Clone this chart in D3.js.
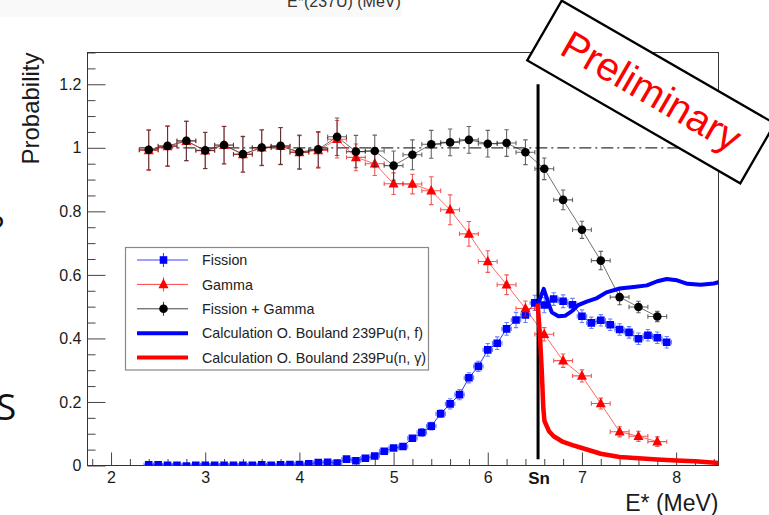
<!DOCTYPE html>
<html>
<head>
<meta charset="utf-8">
<script src="https://cdn.jsdelivr.net/npm/d3@7"></script>
<style>
  html, body { margin: 0; padding: 0; background: #fff; }
  svg { display: block; font-family: "Liberation Sans", Arial, Helvetica, sans-serif; }
</style>
</head>
<body>
<svg id="chart" width="769" height="515"></svg>
<script>
// ---------------- data ----------------
// 0.2 MeV bins: gamma and fission+gamma probabilities
const binE = [2.4, 2.6, 2.8, 3.0, 3.2, 3.4, 3.6, 3.8, 4.0, 4.2, 4.4, 4.6, 4.8, 5.0,
              5.2, 5.4, 5.6, 5.8, 6.0, 6.2, 6.4, 6.6, 6.8, 7.0, 7.2, 7.4, 7.6, 7.8];
const sumP = [0.994, 1.006, 1.022, 0.992, 1.009, 0.980, 1.001, 1.006, 0.987, 0.995, 1.035, 0.988, 0.990, 0.944,
              0.978, 1.011, 1.017, 1.025, 1.013, 1.015, 0.986, 0.934, 0.836, 0.742, 0.645, 0.530, 0.499, 0.469];
const sumErr = [0.063, 0.063, 0.062, 0.057, 0.059, 0.056, 0.056, 0.058, 0.053, 0.056, 0.059, 0.051, 0.050, 0.046,
                0.047, 0.044, 0.042, 0.042, 0.042, 0.042, 0.039, 0.034, 0.031, 0.027, 0.029, 0.024, 0.018, 0.016];
const gammaP = [0.992, 1.004, 1.021, 0.991, 1.008, 0.979, 1.000, 1.005, 0.985, 0.992, 1.027, 0.970, 0.950, 0.887,
                0.886, 0.865, 0.805, 0.729, 0.642, 0.569, 0.494, 0.413, 0.330, 0.282, 0.195, 0.106, 0.092, 0.075];
const gammaErr = [0.063, 0.063, 0.062, 0.057, 0.059, 0.056, 0.056, 0.058, 0.053, 0.056, 0.059, 0.042, 0.037, 0.034,
                  0.031, 0.044, 0.047, 0.039, 0.034, 0.031, 0.024, 0.021, 0.021, 0.019, 0.017, 0.016, 0.016, 0.015];

// 0.1 MeV bins: fission probability
const fisE = [2.4, 2.5, 2.6, 2.7, 2.8, 2.9, 3.0, 3.1, 3.2, 3.3, 3.4, 3.5, 3.6, 3.7, 3.8, 3.9,
              4.0, 4.1, 4.2, 4.3, 4.4, 4.5, 4.6, 4.7, 4.8, 4.9, 5.0, 5.1, 5.2, 5.3, 5.4, 5.5,
              5.6, 5.7, 5.8, 5.9, 6.0, 6.1, 6.2, 6.3, 6.4, 6.5, 6.6, 6.7, 6.8, 6.9, 7.0, 7.1,
              7.2, 7.3, 7.4, 7.5, 7.6, 7.7, 7.8, 7.9];
const fisP = [0.002, 0.002, 0.001, 0.001, -0.002, 0.001, 0.001, 0.001, 0.001, 0.001, 0.001, 0.001, 0.002, 0.001, 0.002, 0.003,
              0.003, 0.005, 0.009, 0.010, 0.008, 0.020, 0.015, 0.023, 0.030, 0.045, 0.055, 0.060, 0.086, 0.104, 0.124, 0.163,
              0.194, 0.223, 0.276, 0.312, 0.364, 0.385, 0.430, 0.458, 0.474, 0.512, 0.505, 0.524, 0.517, 0.506, 0.470, 0.449,
              0.457, 0.443, 0.428, 0.419, 0.399, 0.410, 0.402, 0.388];
const fisErr = [0.004, 0.004, 0.004, 0.004, 0.004, 0.004, 0.004, 0.004, 0.004, 0.004, 0.004, 0.004, 0.004, 0.004, 0.004, 0.004,
                0.004, 0.004, 0.004, 0.004, 0.004, 0.006, 0.006, 0.006, 0.006, 0.006, 0.008, 0.008, 0.008, 0.012, 0.012, 0.012,
                0.016, 0.016, 0.016, 0.016, 0.020, 0.020, 0.020, 0.024, 0.024, 0.024, 0.024, 0.020, 0.020, 0.020, 0.020, 0.018,
                0.018, 0.018, 0.018, 0.018, 0.018, 0.018, 0.018, 0.018];

// Model calculations above the neutron separation energy
const calcFisE = [6.534, 6.594, 6.645, 6.68, 6.75, 6.82, 6.89, 6.96, 7.05, 7.16, 7.26,
                  7.40, 7.55, 7.69, 7.80, 7.90, 8.01, 8.12, 8.26, 8.40, 8.45];
const calcFisP = [0.508, 0.556, 0.510, 0.482, 0.470, 0.471, 0.485, 0.505, 0.516, 0.527, 0.545,
                  0.557, 0.562, 0.567, 0.580, 0.587, 0.583, 0.572, 0.569, 0.573, 0.577];
const calcGamE = [6.53, 6.555, 6.573, 6.59, 6.602, 6.65, 6.70, 6.80, 6.90, 7.00, 7.20,
                  7.40, 7.60, 7.80, 8.00, 8.20, 8.45];
const calcGamP = [0.510, 0.405, 0.300, 0.180, 0.140, 0.108, 0.092, 0.074, 0.064, 0.055, 0.037,
                  0.027, 0.023, 0.019, 0.016, 0.013, 0.008];

const Sn = 6.534;
const xTicks = [2, 3, 4, 5, 6, 7, 8];
const yTicks = [0, 0.2, 0.4, 0.6, 0.8, 1, 1.2];
const legendLabels = ["Fission", "Gamma", "Fission + Gamma",
                      "Calculation O. Bouland 239Pu(n, f)", "Calculation O. Bouland 239Pu(n, \u03b3)"];

// ---------------- layout ----------------
const X0 = 87.5, X1 = 718.5, Y0 = 52.5, Y1 = 465.5;
const BLUE = "#0000ff", RED = "#ff0000", BLACK = "#000000";

const svg = d3.select("#chart");
svg.append("rect").attr("width", 769).attr("height", 515).attr("fill", "#fff");

const x = d3.scaleLinear().domain([1.75, 8.45]).range([X0, X1]);
const y = d3.scaleLinear().domain([0, 1.3]).range([Y1, Y0]);

// slide fragments around the figure
svg.append("rect").attr("x", 0).attr("y", 0).attr("width", 402).attr("height", 17).attr("fill", "#f9f9f9");
svg.append("text").attr("x", 287).attr("y", 7).attr("font-size", 16).attr("fill", "#333")
  .text("E*(237U) (MeV)");
svg.append("text").attr("x", -10).attr("y", 240).attr("font-size", 32)
  .attr("font-family", "'Open Sans', 'DejaVu Sans', sans-serif").attr("fill", "#111").text("?");
svg.append("text").attr("x", -4).attr("y", 420).attr("font-size", 37)
  .attr("font-family", "'Open Sans', 'DejaVu Sans', sans-serif").attr("fill", "#111").text("S");

// ---------------- axes ----------------
function styleAxis(g) {
  g.select(".domain").remove();
  g.selectAll(".tick line").attr("stroke", "#444").attr("stroke-width", 1);
  g.selectAll(".tick text").attr("font-size", 16).attr("fill", "#1a1a1a")
    .attr("font-family", "'Liberation Sans', Arial, sans-serif");
}

const yMinor = d3.range(0, 1.3001, 0.05).filter(v => Math.abs(v * 5 - Math.round(v * 5)) > 1e-6);
svg.append("g").attr("transform", `translate(${X0},0)`)
  .call(d3.axisLeft(y).tickValues(yMinor).tickSize(-8).tickFormat(""))
  .call(styleAxis);
svg.append("g").attr("transform", `translate(${X0},0)`)
  .call(d3.axisLeft(y).tickValues(yTicks).tickSize(-18).tickPadding(6).tickFormat(d3.format("~g")))
  .call(styleAxis);

const xMinor = d3.range(1.8, 8.45, 0.2).filter(v => Math.abs(v - Math.round(v)) > 1e-6);
svg.append("g").attr("transform", `translate(0,${Y1})`)
  .call(d3.axisBottom(x).tickValues(xMinor).tickSize(-6.5).tickFormat(""))
  .call(styleAxis);
svg.append("g").attr("transform", `translate(0,${Y1})`)
  .call(d3.axisBottom(x).tickValues(xTicks).tickSize(-13).tickPadding(6).tickFormat(d3.format("d")))
  .call(styleAxis);

// frame
svg.append("rect").attr("x", X0).attr("y", Y0).attr("width", X1 - X0).attr("height", Y1 - Y0)
  .attr("fill", "none").attr("stroke", "#333").attr("stroke-width", 1);

// Sn label under the axis
svg.append("text").attr("x", x(Sn) + 1).attr("y", Y1 + 18).attr("text-anchor", "middle")
  .attr("font-size", 17).attr("font-weight", "bold").attr("fill", "#111").text("Sn");

// axis titles
svg.append("text").attr("x", X1).attr("y", 511).attr("text-anchor", "end")
  .attr("font-size", 23).attr("fill", "#1a1a1a").text("E* (MeV)");
svg.append("text").attr("transform", `translate(39,${Y0}) rotate(-90)`).attr("text-anchor", "end")
  .attr("font-size", 24).attr("fill", "#1a1a1a").text("Probability");

// ---------------- plot contents ----------------
svg.append("defs").append("clipPath").attr("id", "plotClip")
  .append("rect").attr("x", X0).attr("y", Y0).attr("width", X1 - X0).attr("height", Y1 - Y0);
const plot = svg.append("g").attr("clip-path", "url(#plotClip)");

// reference line at probability 1
plot.append("line").attr("x1", x(2.3)).attr("x2", x(8.45)).attr("y1", y(1)).attr("y2", y(1))
  .attr("stroke", "#333").attr("stroke-width", 1.2).attr("stroke-dasharray", "12,4,2,4");

const markers = {
  square: s => `M${-s / 2},${-s / 2}h${s}v${s}h${-s}Z`,
  triangle: s => `M0,${-s * 0.58}L${s / 2},${s * 0.38}L${-s / 2},${s * 0.38}Z`,
  circle: s => d3.symbol(d3.symbolCircle, Math.PI * (s / 2) * (s / 2))()
};

function drawSeries(es, vs, evs, halfBin, opt) {
  const g = plot.append("g");
  const pts = es.map((e, i) => ({ e, v: vs[i], ev: evs[i] }));
  g.append("path")
    .attr("d", d3.line().x(d => x(d.e)).y(d => y(d.v))(pts))
    .attr("fill", "none").attr("stroke", opt.line).attr("stroke-width", 1).attr("stroke-opacity", opt.lineOpacity);
  const cap = 2.2;
  const eb = g.append("g").attr("stroke", opt.bar).attr("stroke-width", 1.1).attr("stroke-opacity", opt.barOpacity);
  pts.forEach(d => {
    const cx = x(d.e), cy = y(d.v), yt = y(d.v + d.ev), yb = y(d.v - d.ev);
    const xl = x(d.e - halfBin), xr = x(d.e + halfBin);
    eb.append("path").attr("d",
      `M${cx},${yt}V${yb}M${cx - cap},${yt}H${cx + cap}M${cx - cap},${yb}H${cx + cap}` +
      `M${xl},${cy}H${xr}M${xl},${cy - cap}V${cy + cap}M${xr},${cy - cap}V${cy + cap}`);
  });
  g.selectAll("path.mk").data(pts).join("path").attr("class", "mk")
    .attr("transform", d => `translate(${x(d.e)},${y(d.v)})`)
    .attr("d", markers[opt.marker](opt.size))
    .attr("fill", opt.color);
}

drawSeries(fisE, fisP, fisErr, 0.05,
  { color: BLUE, line: BLUE, lineOpacity: 0.8, bar: "#3355ff", barOpacity: 0.75, marker: "square", size: 7.6 });
drawSeries(binE, gammaP, gammaErr, 0.1,
  { color: RED, line: RED, lineOpacity: 0.6, bar: "#ee1010", barOpacity: 0.7, marker: "triangle", size: 10 });
drawSeries(binE, sumP, sumErr, 0.1,
  { color: BLACK, line: "#333", lineOpacity: 0.7, bar: "#222", barOpacity: 0.7, marker: "circle", size: 8.6 });

// neutron separation energy
plot.append("line").attr("x1", x(Sn)).attr("x2", x(Sn)).attr("y1", y(0.02)).attr("y2", y(1.2))
  .attr("stroke", "#000").attr("stroke-width", 3);

// model curves
const calcLine = d3.line().x(d => x(d[0])).y(d => y(d[1]));
plot.append("path").attr("d", calcLine(calcFisE.map((e, i) => [e, calcFisP[i]])))
  .attr("fill", "none").attr("stroke", BLUE).attr("stroke-width", 4).attr("stroke-linejoin", "round");
plot.append("path").attr("d", calcLine(calcGamE.map((e, i) => [e, calcGamP[i]])))
  .attr("fill", "none").attr("stroke", RED).attr("stroke-width", 4.5).attr("stroke-linejoin", "round");

// ---------------- legend ----------------
const lg = svg.append("g");
lg.append("rect").attr("x", 125.5).attr("y", 247.5).attr("width", 303).attr("height", 122.5)
  .attr("fill", "#fff").attr("stroke", "#888").attr("stroke-width", 1.2);
const legendStyle = [
  { color: BLUE, marker: "square", size: 7.6, thick: false },
  { color: RED, marker: "triangle", size: 10, thick: false },
  { color: BLACK, marker: "circle", size: 8.6, thick: false },
  { color: BLUE, thick: true },
  { color: RED, thick: true }
];
legendLabels.forEach((label, i) => {
  const cy = 260 + i * 24.4, st = legendStyle[i];
  const row = lg.append("g");
  if (st.thick) {
    row.append("line").attr("x1", 137).attr("x2", 188).attr("y1", cy).attr("y2", cy)
      .attr("stroke", st.color).attr("stroke-width", 4);
  } else {
    row.append("line").attr("x1", 137).attr("x2", 188).attr("y1", cy).attr("y2", cy)
      .attr("stroke", st.color).attr("stroke-width", 1).attr("stroke-opacity", 0.75);
    row.append("line").attr("x1", 163.5).attr("x2", 163.5).attr("y1", cy - 7).attr("y2", cy + 7)
      .attr("stroke", st.color).attr("stroke-width", 1.1).attr("stroke-opacity", 0.75);
    row.append("path").attr("transform", `translate(163.5,${cy})`)
      .attr("d", markers[st.marker](st.size)).attr("fill", st.color);
  }
  row.append("text").attr("x", 202).attr("y", cy).attr("dy", "0.36em")
    .attr("font-size", 14.3).attr("fill", "#222").text(label);
});

// ---------------- preliminary stamp ----------------
const stamp = svg.append("g").attr("transform", "translate(651,92) rotate(30)");
stamp.append("rect").attr("x", -123).attr("y", -34.5).attr("width", 246).attr("height", 69)
  .attr("fill", "#fff").attr("stroke", "#000").attr("stroke-width", 2.3);
stamp.append("text").attr("x", 0).attr("y", 13).attr("text-anchor", "middle")
  .attr("font-size", 40).attr("fill", RED).text("Preliminary");
</script>
</body>
</html>
